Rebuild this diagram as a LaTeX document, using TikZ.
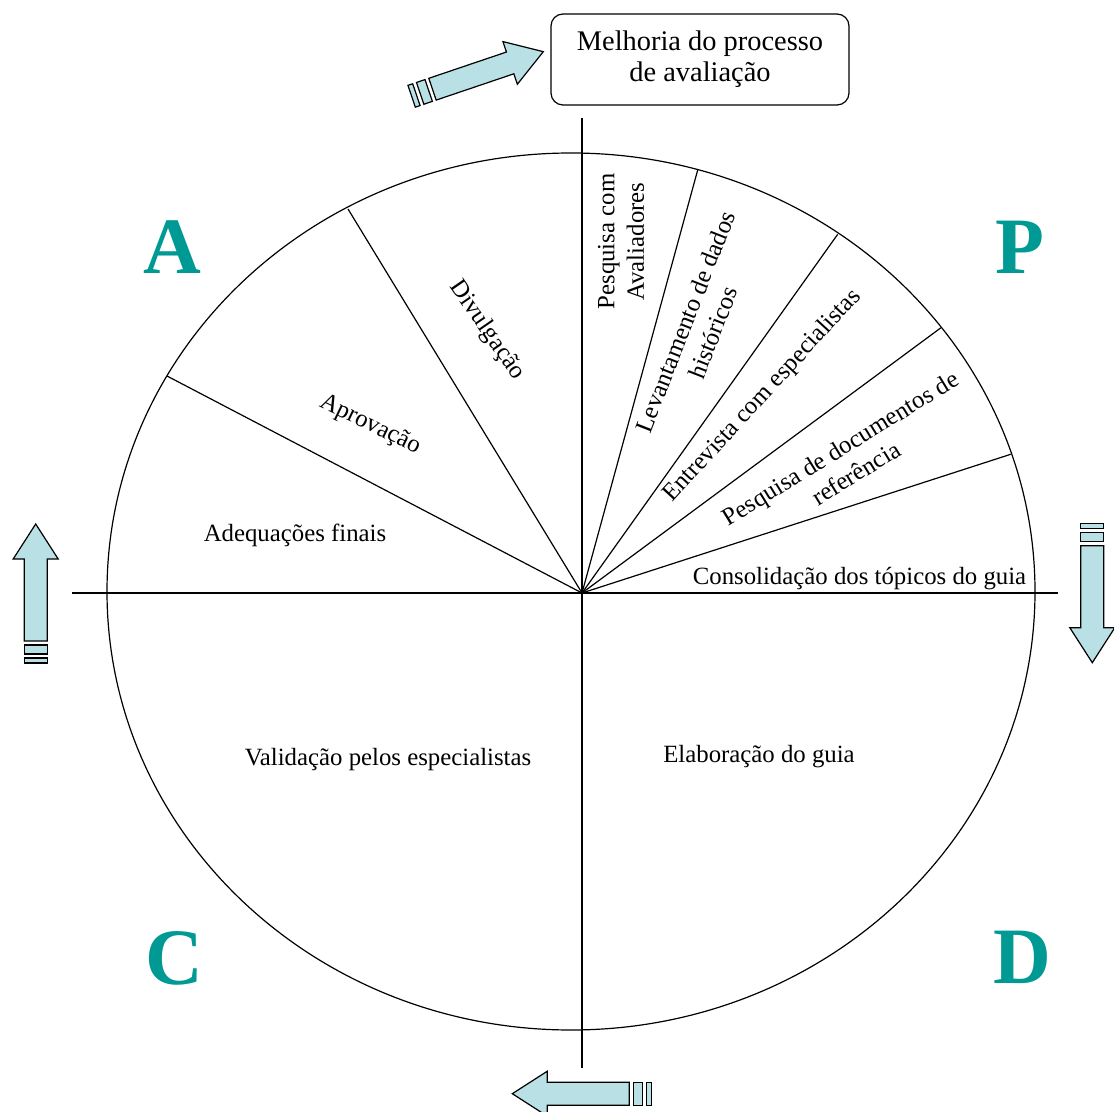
\documentclass[tikz,border=0pt]{standalone}
\usepackage{fontspec}
\setmainfont{Liberation Serif}
\definecolor{pdcateal}{RGB}{0,153,148}
\definecolor{arrowblue}{RGB}{185,224,228}
\tikzset{
 phase/.style={font=\fontsize{12.4}{14.8}\selectfont, inner sep=0pt, align=center},
 cycleletter/.style={font=\fontsize{40}{42}\selectfont\bfseries, text=pdcateal, inner sep=0pt},
 arrowbody/.style={draw=black, fill=arrowblue, line width=0.6pt, line join=miter},
}
% block arrow with striped tail: #1 tip, #2 direction
\newcommand{\cyclearrow}[2]{%
 \begin{scope}[shift={#1}, rotate=#2]
  \draw[arrowbody] (0,0) -- (-35,22.5) -- (-35,11.5) -- (-117,11.5) -- (-117,-11.5)
   -- (-35,-11.5) -- (-35,-22.5) -- cycle;
  \draw[arrowbody] (-121,11.5) rectangle (-130,-11.5);
  \draw[arrowbody] (-134,11.5) rectangle (-139,-11.5);
 \end{scope}}

\begin{document}
\begin{tikzpicture}[x=0.5pt, y=-0.5pt, line width=0.6pt]
\useasboundingbox (0,0) rectangle (1114,1112);

\coordinate (O) at (582,593);
\draw (571,591.5) ellipse [x radius=464, y radius=438.5];
\draw (582,118) -- (582,1068);
\draw (72,593) -- (1058,593);
\foreach \px/\py in {697.7/170, 837.7/234.3, 941/327.7, 1010.7/454.3, 348/209, 167/376}
  \draw (O) -- (\px,\py);

\node[draw, rounded corners=6pt, minimum width=149pt, minimum height=45.5pt, align=center,
  font=\fontsize{14.2}{15.5}\selectfont] (goal) at (700,59.5) {Melhoria do processo\\de avaliação};

\node[phase] (consol) at (859.5,579) {Consolidação dos tópicos do guia};
\node[phase, rotate=31.6] (docs) at (848,460.5) {Pesquisa de documentos de\\referência};
\node[phase, rotate=47.4] (entrev) at (762.5,396) {Entrevista com especialistas};
\node[phase, rotate=68.6] (levant) at (699,327) {Levantamento de dados\\históricos};
\node[phase, rotate=90] (avaliad) at (621,241.5) {Pesquisa com\\Avaliadores};
\node[phase, rotate=-55.4] (divulg) at (487,330) {Divulgação};
\node[phase, rotate=-25.8] (aprov) at (370,425) {Aprovação};
\node[phase] (adeq) at (295,535) {Adequações finais};
\node[phase] (valid) at (388,760) {Validação pelos especialistas};
\node[phase] (elab) at (759,757) {Elaboração do guia};

\node[cycleletter] (letA) at (172,247) {A};
\node[cycleletter] (letP) at (1020,247) {P};
\node[cycleletter] (letC) at (174,958) {C};
\node[cycleletter] (letD) at (1022,957) {D};

\cyclearrow{(543.3,51.7)}{18.7}
\cyclearrow{(35.7,524)}{90}
\cyclearrow{(1092.3,662.7)}{-90}
\cyclearrow{(512.3,1093.7)}{180}
\end{tikzpicture}
\end{document}
